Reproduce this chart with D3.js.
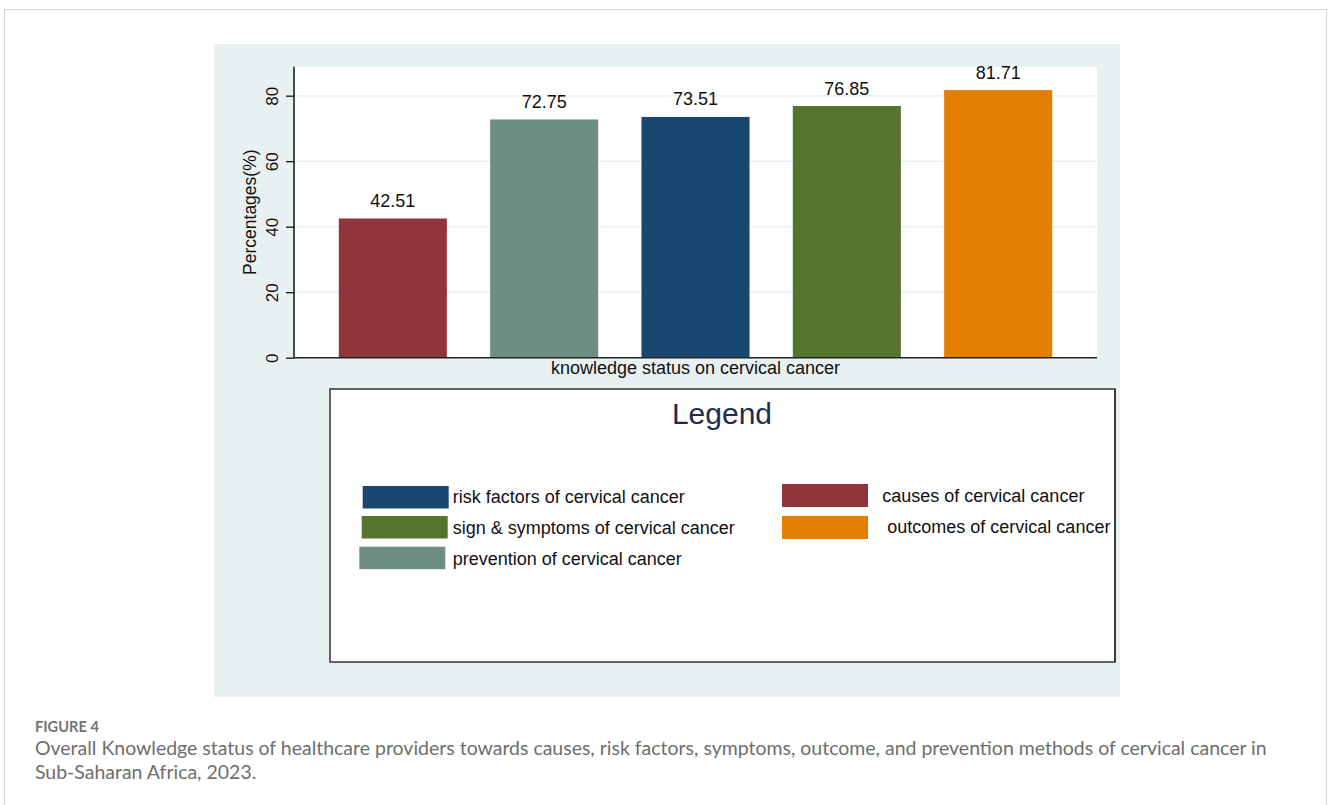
<!DOCTYPE html>
<html>
<head>
<meta charset="utf-8">
<script src="https://cdn.jsdelivr.net/npm/d3@7"></script>
<style>
  html, body { margin: 0; padding: 0; background: #fff; }
  svg { display: block; }
</style>
</head>
<body>
<svg id="chart" width="1328" height="805"></svg>
<script>
// ---- data ----
const categories = ["causes", "prevention", "risk", "sign", "outcomes"];
const values = [42.51, 72.75, 73.51, 76.85, 81.71];
const valueLabels = ["42.51", "72.75", "73.51", "76.85", "81.71"];
const barColors = ["#90353b", "#6e8e84", "#1a476f", "#55752f", "#e37e00"];
const yTicks = [0, 20, 40, 60, 80];
const legendLeftLabels = ["risk factors of cervical cancer", "sign & symptoms of cervical cancer", "prevention of cervical cancer"];
const legendLeftColors = ["#1a476f", "#55752f", "#6e8e84"];
const legendRightLabels = ["causes of cervical cancer", " outcomes of cervical cancer"];
const legendRightColors = ["#90353b", "#e37e00"];
const yTitle = "Percentages(%)";
const xTitle = "knowledge status on cervical cancer";
const figLabel = "FIGURE 4";
const captionLines = [
  "Overall Knowledge status of healthcare providers towards causes, risk factors, symptoms, outcome, and prevention methods of cervical cancer in",
  "Sub-Saharan Africa, 2023."
];

const FONT = "'Liberation Sans', Arial, Helvetica, sans-serif";
const svg = d3.select("#chart");

// card border
svg.append("rect").attr("x", 4.5).attr("y", 9.5).attr("width", 1322).attr("height", 900)
  .attr("fill", "#fff").attr("stroke", "#d4d4d4").attr("stroke-width", 1);

// graph region (Stata-like)
svg.append("rect").attr("x", 214).attr("y", 44).attr("width", 906).attr("height", 653)
  .attr("fill", "#e9f0f2");

// plot region
const plot = { left: 294, right: 1097, top: 66.7, bottom: 357.7 };
svg.append("rect").attr("x", plot.left).attr("y", plot.top)
  .attr("width", plot.right - plot.left).attr("height", plot.bottom - plot.top)
  .attr("fill", "#fff");

const y = d3.scaleLinear().domain([0, 88.85]).range([plot.bottom, plot.top]);
const x = d3.scaleBand().domain(categories).range([plot.left, plot.right])
  .paddingInner(0.286).paddingOuter(0.296);

// gridlines
svg.append("g").selectAll("line").data(yTicks.filter(d => d > 0)).join("line")
  .attr("x1", plot.left).attr("x2", plot.right)
  .attr("y1", d => y(d)).attr("y2", d => y(d))
  .attr("stroke", "#eaf2f3").attr("stroke-width", 1.5);

// bars
svg.append("g").selectAll("rect").data(values).join("rect")
  .attr("x", (d, i) => x(categories[i]))
  .attr("width", x.bandwidth())
  .attr("y", d => y(d))
  .attr("height", d => y(0) - y(d))
  .attr("fill", (d, i) => barColors[i]);

// value labels
svg.append("g").selectAll("text").data(values).join("text")
  .attr("x", (d, i) => x(categories[i]) + x.bandwidth() / 2)
  .attr("y", d => y(d) - 11.5)
  .attr("text-anchor", "middle")
  .attr("font-family", FONT).attr("font-size", 18).attr("fill", "#111")
  .text((d, i) => valueLabels[i]);

// y axis
const yAxis = d3.axisLeft(y).tickValues(yTicks).tickSize(8).tickPadding(4).tickFormat(d3.format("d"));
const gy = svg.append("g").attr("transform", `translate(${plot.left},0)`).call(yAxis);
gy.select(".domain").attr("stroke", "#111").attr("stroke-width", 1.5)
  .attr("d", `M0,${plot.top}V${plot.bottom}`);
gy.selectAll(".tick line").attr("stroke", "#111").attr("stroke-width", 1.3);
gy.selectAll(".tick text")
  .attr("font-family", FONT).attr("font-size", 17).attr("fill", "#111")
  .attr("x", null).attr("dy", null)
  .attr("text-anchor", "middle")
  .attr("transform", "translate(-16,0) rotate(-90)");

// x axis line
const xAxis = d3.axisBottom(x).tickSize(0).tickFormat("");
const gx = svg.append("g").attr("transform", `translate(0,${plot.bottom})`).call(xAxis);
gx.select(".domain").attr("stroke", "#222").attr("stroke-width", 1.5)
  .attr("d", `M${plot.left},0H${plot.right}`);

// axis titles
svg.append("text")
  .attr("transform", `translate(255.5,${(plot.top + plot.bottom) / 2}) rotate(-90)`)
  .attr("text-anchor", "middle").attr("font-family", FONT).attr("font-size", 17.5).attr("fill", "#111")
  .text(yTitle);
svg.append("text")
  .attr("x", (plot.left + plot.right) / 2).attr("y", 374)
  .attr("text-anchor", "middle").attr("font-family", FONT).attr("font-size", 18).attr("fill", "#111")
  .text(xTitle);

// legend box
svg.append("rect").attr("x", 330).attr("y", 389).attr("width", 785).attr("height", 273)
  .attr("fill", "#fff").attr("stroke", "#333").attr("stroke-width", 1.5);
svg.append("text").attr("x", 722).attr("y", 424)
  .attr("text-anchor", "middle").attr("font-family", FONT).attr("font-size", 30).attr("fill", "#1e2b52")
  .text("Legend");

const leftRows = [
  { sx: 362.7, sy: 486, tx: 452.7, ty: 502.7 },
  { sx: 361.7, sy: 516, tx: 452.7, ty: 534 },
  { sx: 359.3, sy: 546.7, tx: 452.7, ty: 565 }
];
const rightRows = [
  { sx: 782, sy: 484, tx: 882.3, ty: 502.3 },
  { sx: 782, sy: 516, tx: 882.3, ty: 533.3 }
];
const legG = svg.append("g");
const clip = svg.append("clipPath").attr("id", "legclip");
clip.append("rect").attr("x", 330).attr("y", 389).attr("width", 784).attr("height", 273);
legendLeftLabels.forEach((lab, i) => {
  const r = leftRows[i];
  legG.append("rect").attr("x", r.sx).attr("y", r.sy).attr("width", 86).attr("height", 22.5)
    .attr("fill", legendLeftColors[i]);
  legG.append("text").attr("x", r.tx).attr("y", r.ty)
    .attr("font-family", FONT).attr("font-size", 18).attr("fill", "#111").text(lab);
});
legendRightLabels.forEach((lab, i) => {
  const r = rightRows[i];
  legG.append("rect").attr("x", r.sx).attr("y", r.sy).attr("width", 86).attr("height", 23)
    .attr("fill", legendRightColors[i]);
  legG.append("text").attr("x", r.tx).attr("y", r.ty).attr("clip-path", "url(#legclip)")
    .attr("xml:space", "preserve").style("white-space", "pre")
    .attr("font-family", FONT).attr("font-size", 18).attr("fill", "#111").text(lab);
});
// redraw legend right border on top
svg.append("line").attr("x1", 1115).attr("x2", 1115).attr("y1", 389).attr("y2", 662)
  .attr("stroke", "#333").attr("stroke-width", 1.5);

// caption
const CAP_FONT = "Lato, 'Open Sans', 'Noto Sans', sans-serif";
const fig = svg.append("text").attr("x", 35).attr("y", 732.3)
  .attr("font-family", CAP_FONT).attr("font-size", 13).attr("fill", "#737373").attr("font-weight", 700)
  .text(figLabel);
const capBaselines = [755.3, 778.5];
const capTexts = captionLines.map((t, i) => svg.append("text")
  .attr("x", 35).attr("y", capBaselines[i])
  .attr("font-family", CAP_FONT).attr("font-size", 16).attr("fill", "#6e6e6e")
  .text(t));
// fit the first caption line to its measured width in the reference
const w0 = capTexts[0].node().getComputedTextLength();
const fs = 16 * 1232 / w0;
capTexts.forEach(t => t.attr("font-size", fs));
const wf = fig.node().getComputedTextLength();
fig.attr("font-size", 13 * 64 / wf);
</script>
</body>
</html>
